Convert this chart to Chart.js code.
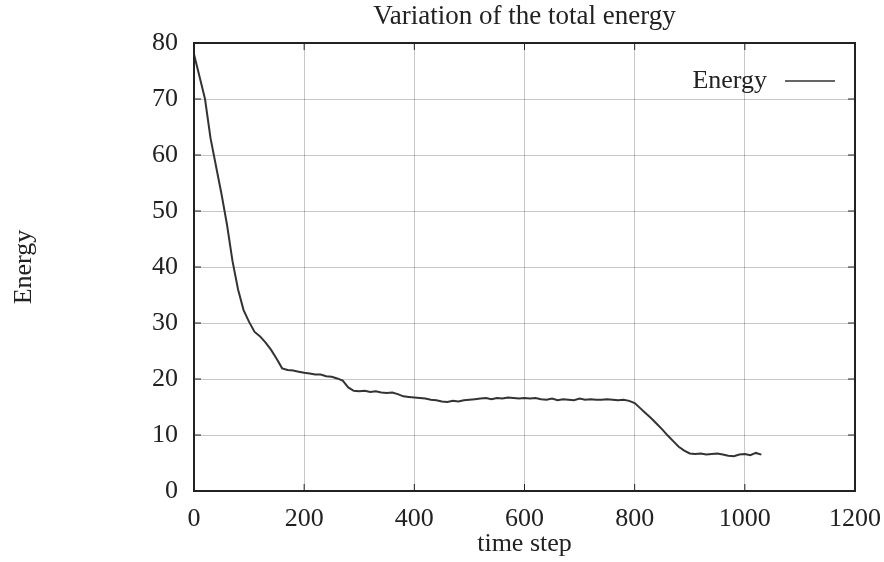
<!DOCTYPE html>
<html lang="en">
<head>
  <meta charset="UTF-8" />
  <title>Variation of the total energy</title>
  <script src="https://cdn.jsdelivr.net/npm/chart.js"></script>
  <style>
    body { margin: 0; background: #fff; }
  </style>
</head>
<body>
  <canvas id="energyChart" width="884" height="562"></canvas>

  <script>
    // values
    const timeSteps = [
      0, 10, 20, 30, 40, 50, 60, 70, 80, 90,
      100, 110, 120, 130, 140, 150, 160, 170, 180, 190,
      200, 210, 220, 230, 240, 250, 260, 270, 280, 290,
      300, 310, 320, 330, 340, 350, 360, 370, 380, 390,
      400, 410, 420, 430, 440, 450, 460, 470, 480, 490,
      500, 510, 520, 530, 540, 550, 560, 570, 580, 590,
      600, 610, 620, 630, 640, 650, 660, 670, 680, 690,
      700, 710, 720, 730, 740, 750, 760, 770, 780, 790,
      800, 810, 820, 830, 840, 850, 860, 870, 880, 890,
      900, 910, 920, 930, 940, 950, 960, 970, 980, 990,
      1000, 1010, 1020, 1030
    ];
    const energyValues = [
      78, 74, 70, 63, 58, 53, 47.5, 41, 36, 32.3,
      30.2, 28.4, 27.6, 26.5, 25.2, 23.6, 21.9, 21.6, 21.5, 21.3,
      21.1, 21.0, 20.8, 20.8, 20.5, 20.4, 20.1, 19.7, 18.5, 17.9,
      17.8, 17.9, 17.7, 17.8, 17.6, 17.5, 17.6, 17.3, 16.9, 16.8,
      16.7, 16.6, 16.5, 16.3, 16.2, 16.0, 15.9, 16.1, 16.0, 16.2,
      16.3, 16.4, 16.5, 16.6, 16.4, 16.6, 16.5, 16.7, 16.6, 16.5,
      16.6, 16.5, 16.6, 16.4, 16.3, 16.5, 16.2, 16.4, 16.3, 16.2,
      16.5, 16.3, 16.4, 16.3, 16.3, 16.4, 16.3, 16.2, 16.3, 16.1,
      15.7, 14.8, 13.9, 13.0, 12.0, 11.0, 9.9, 8.9, 7.9, 7.2,
      6.7, 6.6, 6.7, 6.5, 6.6, 6.7, 6.5, 6.3, 6.2, 6.5,
      6.6, 6.4, 6.8, 6.5
    ];
    const xTickValues = [0, 200, 400, 600, 800, 1000, 1200];
    const yTickValues = [0, 10, 20, 30, 40, 50, 60, 70, 80];

    const serif = "'Liberation Serif', 'DejaVu Serif', serif";
    const ink = "#222";
    const fontSize = 26;

    // gnuplot style frame with inward tick marks, and the key in the top right
    const framePlugin = {
      id: "frame",
      afterDatasetsDraw(chart) {
        const { ctx, chartArea: a, scales } = chart;
        ctx.save();
        ctx.strokeStyle = ink;
        ctx.lineWidth = 1;
        const len = 7;
        ctx.beginPath();
        xTickValues.forEach(v => {
          const px = scales.x.getPixelForValue(v);
          ctx.moveTo(px, a.bottom); ctx.lineTo(px, a.bottom - len);
          ctx.moveTo(px, a.top); ctx.lineTo(px, a.top + len);
        });
        yTickValues.forEach(v => {
          const py = scales.y.getPixelForValue(v);
          ctx.moveTo(a.left, py); ctx.lineTo(a.left + len, py);
          ctx.moveTo(a.right, py); ctx.lineTo(a.right - len, py);
        });
        ctx.stroke();
        ctx.lineWidth = 2;
        ctx.strokeRect(a.left, a.top, a.right - a.left, a.bottom - a.top);

        const ds = chart.data.datasets[0];
        const ky = a.top + 38;
        ctx.fillStyle = ink;
        ctx.font = fontSize + "px " + serif;
        ctx.textAlign = "right";
        ctx.textBaseline = "middle";
        ctx.fillText(ds.label, a.right - 88, ky);
        ctx.strokeStyle = ds.borderColor;
        ctx.lineWidth = 1.5;
        ctx.beginPath();
        ctx.moveTo(a.right - 70, ky);
        ctx.lineTo(a.right - 20, ky);
        ctx.stroke();
        ctx.restore();
      }
    };

    const noSidePadding = s => { s.paddingLeft = 0; s.paddingRight = 0; };

    const ctx = document.getElementById("energyChart").getContext("2d");

    new Chart(ctx, {
      type: "line",
      data: {
        datasets: [{
          label: "Energy",
          data: timeSteps.map((t, i) => ({ x: t, y: energyValues[i] })),
          borderColor: "#333",
          backgroundColor: "#333",
          borderWidth: 2,
          pointRadius: 0,
          tension: 0,
          fill: false
        }]
      },
      options: {
        responsive: false,
        animation: false,
        layout: { padding: { left: 0, right: 29, top: 0, bottom: 0 } },
        plugins: {
          legend: { display: false },
          tooltip: { enabled: false }
        },
        scales: {
          x: {
            type: "linear",
            min: 0,
            max: 1200,
            afterBuildTicks: s => { s.ticks = xTickValues.map(v => ({ value: v })); },
            afterFit: s => { s.height = 71; noSidePadding(s); },
            grid: { color: "rgba(0,0,0,0.22)", borderDash: [1, 2], drawTicks: false },
            border: { display: false },
            ticks: {
              color: ink,
              font: { family: serif, size: fontSize },
              padding: 13,
              maxRotation: 0,
              callback: v => String(v)
            },
            title: {
              display: true,
              text: "time step",
              color: ink,
              font: { family: serif, size: fontSize },
              padding: { top: 0, bottom: 2 }
            }
          },
          // top axis only carries the chart title, centred over the plot
          x2: {
            type: "linear",
            position: "top",
            min: 0,
            max: 1200,
            afterFit: s => { s.height = 43; noSidePadding(s); },
            grid: { display: false },
            border: { display: false },
            ticks: { display: false },
            title: {
              display: true,
              text: "Variation of the total energy",
              color: ink,
              font: { family: serif, size: 27 },
              padding: { top: 1, bottom: 0 }
            }
          },
          y: {
            min: 0,
            max: 80,
            afterBuildTicks: s => { s.ticks = yTickValues.map(v => ({ value: v })); },
            afterFit: s => { s.width = 194; },
            grid: { color: "rgba(0,0,0,0.22)", borderDash: [1, 2], drawTicks: false },
            border: { display: false },
            ticks: { color: ink, font: { family: serif, size: fontSize }, padding: 16 },
            title: {
              display: true,
              text: "Energy",
              color: ink,
              font: { family: serif, size: fontSize },
              padding: { top: 9, bottom: 0 }
            }
          }
        }
      },
      plugins: [framePlugin]
    });
  </script>
</body>
</html>
